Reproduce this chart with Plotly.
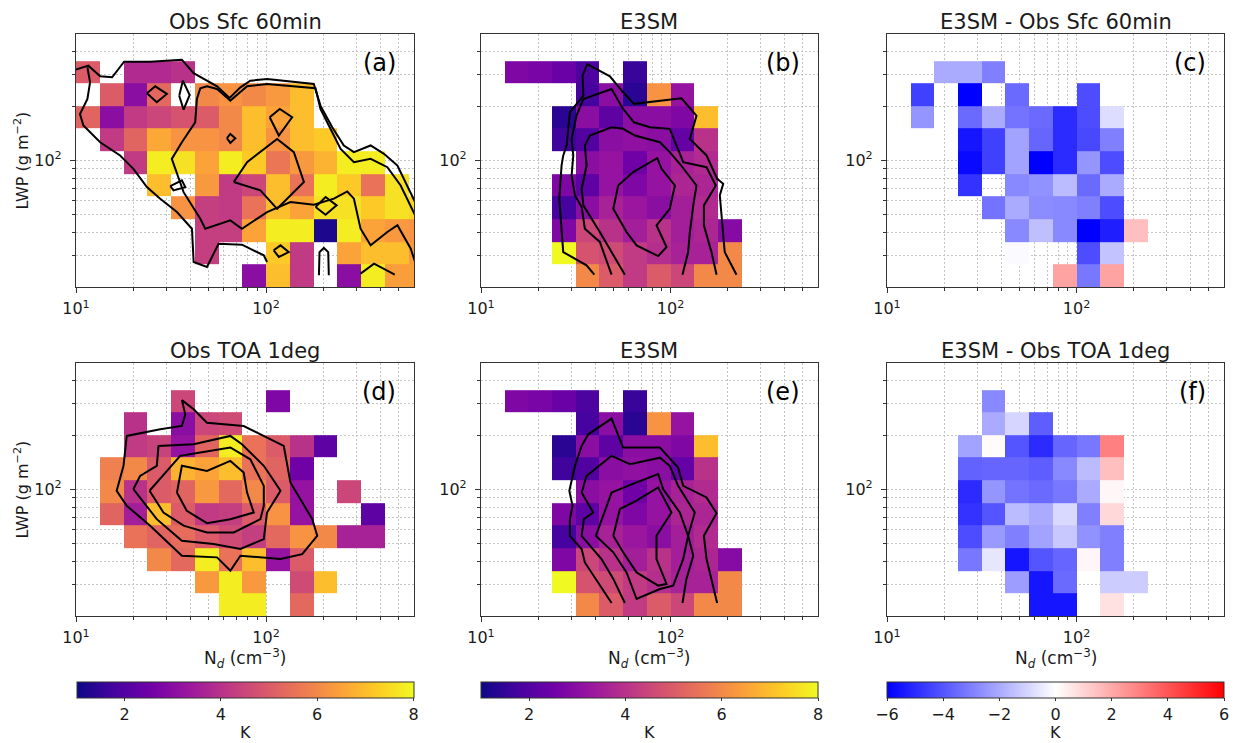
import numpy as np
import plotly.graph_objects as go
from plotly.subplots import make_subplots

N = None

# ---------------- bins (cell edges) ----------------
ND_EDGES = [10.0, 13.34, 17.78, 23.71, 31.62, 42.17, 56.23, 74.99, 100.0,
            133.4, 177.8, 237.1, 316.2, 421.7, 562.3, 749.9]
LWP_EDGES = [20.0, 26.67, 35.57, 47.43, 63.25, 84.34, 112.5, 150.0, 200.0,
             266.7, 355.7, 474.3]

# ---------------- cell values (rows listed top -> bottom, r10 .. r0) ----------------
Z_OBS_SFC = [
    [N, N, N, N, N, N, N, N, N, N, N, N, N, N, N],
    [5.0, N, 3.8, 3.8, 4.0, N, N, N, N, N, N, N, N, N, N],
    [N, 5.0, 3.0, 5.3, N, 6.0, 6.2, 6.0, 6.3, 7.0, N, N, N, N, N],
    [5.2, 3.0, 4.2, 4.5, 4.8, 5.0, 6.0, 7.0, 6.5, 7.0, N, N, N, N, N],
    [N, 4.2, 5.2, 6.6, 6.2, 6.2, 6.0, 7.0, 6.2, 7.0, 7.2, N, N, N, N],
    [N, N, 4.2, 7.8, 7.6, 6.5, 7.8, 7.2, 5.6, 6.3, 6.8, 7.8, 7.8, N, N],
    [N, N, N, 7.0, N, 6.3, 4.2, 4.5, 7.0, 5.5, 7.8, 7.2, 5.5, 7.6, N],
    [N, N, N, N, 6.2, 4.3, 4.2, 5.5, 7.0, 6.5, 7.6, 7.6, 7.2, 7.6, 7.4],
    [N, N, N, N, N, 4.3, 4.3, 6.5, 7.8, 7.8, 1.2, 7.8, 6.5, 6.3, 6.2],
    [N, N, N, N, N, 4.3, N, N, 7.2, 4.2, N, 6.5, 7.0, 7.0, 6.3],
    [N, N, N, N, N, N, N, 3.0, 7.0, 4.2, N, 3.0, 7.8, 6.4, 6.4],
]
Z_E3SM = [
    [N, N, N, N, N, N, N, N, N, N, N, N, N, N, N],
    [N, 2.8, 2.7, 2.4, 1.9, N, 1.6, N, N, N, N, N, N, N, N],
    [N, N, N, N, 1.8, 3.0, 1.4, 6.2, 3.2, N, N, N, N, N, N],
    [N, N, N, 1.4, 3.0, 2.2, 3.0, 3.0, 2.8, 7.0, N, N, N, N, N],
    [N, N, N, 1.7, 2.0, 3.0, 3.1, 3.0, 2.3, 4.0, N, N, N, N, N],
    [N, N, N, N, 3.0, 3.2, 2.5, 3.2, 3.6, 3.8, N, N, N, N, N],
    [N, N, N, 2.8, 2.2, 3.2, 2.8, 3.2, 3.7, 3.7, N, N, N, N, N],
    [N, N, N, 1.8, 3.0, 3.6, 3.3, 3.0, 3.5, 3.8, N, N, N, N, N],
    [N, N, N, 2.8, 4.5, 4.0, 3.5, 4.0, 3.5, 3.7, 2.9, N, N, N, N],
    [N, N, N, 8.0, 4.8, 4.6, 4.2, 3.9, 3.6, 3.6, 6.0, N, N, N, N],
    [N, N, N, N, 6.0, 5.0, 4.2, 5.0, 4.5, 6.0, 6.0, N, N, N, N],
]
Z_DIFF_SFC = [
    [N, N, N, N, N, N, N, N, N, N, N, N, N, N, N],
    [N, N, -2.0, -2.0, -3.0, N, N, N, N, N, N, N, N, N, N],
    [N, -4.5, N, -6.0, N, -3.5, N, N, -4.2, N, N, N, N, N, N],
    [N, -2.5, N, -3.5, -2.0, -3.3, -3.5, -5.0, -4.2, -0.8, N, N, N, N, N],
    [N, N, N, -5.5, -4.5, -2.2, -3.6, -5.0, -4.3, -3.0, N, N, N, N, N],
    [N, N, N, -5.8, -4.5, -2.2, -6.0, -5.0, -2.5, -4.2, N, N, N, N, N],
    [N, N, N, -4.8, N, -2.8, -2.6, -1.6, -3.5, -2.0, N, N, N, N, N],
    [N, N, N, N, -3.3, -2.0, -2.7, -2.8, -3.0, -4.2, N, N, N, N, N],
    [N, N, N, N, N, -2.8, -1.5, -2.8, -6.0, -5.3, 1.5, N, N, N, N],
    [N, N, N, N, N, -0.1, N, N, -4.2, -1.4, N, N, N, N, N],
    [N, N, N, N, N, N, N, 2.2, -3.2, 2.2, N, N, N, N, N],
]
Z_OBS_TOA = [
    [N, N, N, N, N, N, N, N, N, N, N, N, N, N, N],
    [N, N, N, N, 4.5, N, N, N, 2.8, N, N, N, N, N, N],
    [N, N, 4.0, N, 3.0, 4.5, 4.6, N, N, N, N, N, N, N, N],
    [N, N, 4.2, 4.4, 3.2, 5.2, 7.8, 5.5, 5.0, 4.0, 2.2, N, N, N, N],
    [N, 5.8, 6.0, 5.0, 6.8, 6.5, 7.0, 5.5, 5.2, 2.5, N, N, N, N, N],
    [N, 6.0, 4.0, 5.0, 5.2, 6.3, 5.3, 6.0, 5.0, 3.2, N, 4.5, N, N, N],
    [N, 5.2, 3.5, 7.0, 5.0, 4.2, 4.3, 5.0, 6.2, 3.2, N, N, 2.2, N, N],
    [N, N, 5.5, 5.2, 5.4, 5.0, 4.6, 4.3, 5.3, 6.2, 6.0, 3.6, 3.6, N, N],
    [N, N, N, 6.0, 5.3, 7.8, 5.5, 7.0, 3.2, 5.0, N, N, N, N, N],
    [N, N, N, N, N, 6.3, 7.8, 6.3, N, 4.6, 7.0, N, N, N, N],
    [N, N, N, N, N, N, 7.8, 7.8, N, 5.3, N, N, N, N, N],
]
Z_DIFF_TOA = [
    [N, N, N, N, N, N, N, N, N, N, N, N, N, N, N],
    [N, N, N, N, -2.8, N, N, N, N, N, N, N, N, N, N],
    [N, N, N, N, -2.0, -1.0, -3.8, N, N, N, N, N, N, N, N],
    [N, N, N, -2.2, 0.1, -4.0, -5.0, -3.6, -3.2, 3.0, N, N, N, N, N],
    [N, N, N, -3.7, -3.6, -3.6, -3.8, -2.8, -1.6, 1.5, N, N, N, N, N],
    [N, N, N, -5.0, -2.5, -3.3, -3.5, -3.2, -2.0, 0.2, N, N, N, N, N],
    [N, N, N, -4.8, -4.0, -1.6, -2.0, -0.9, -3.0, 0.9, N, N, N, N, N],
    [N, N, N, -4.2, -2.4, -3.0, -2.2, -1.3, -2.6, -3.0, N, N, N, N, N],
    [N, N, N, -3.2, -0.6, -5.5, -4.0, -3.6, 0.2, -3.0, N, N, N, N, N],
    [N, N, N, N, N, -2.3, -5.5, -3.5, N, -1.2, -1.2, N, N, N, N],
    [N, N, N, N, N, N, -5.5, -5.5, N, 0.7, N, N, N, N, N],
]

# ---------------- frequency contours (log10 Nd, log10 LWP) ----------------
# (a) Obs Sfc 60min
A1_LX = [1.000, 1.065, 1.127, 1.190, 1.253, 1.390, 1.557, 1.619, 1.742, 1.808, 1.865, 1.917, 2.005,
         2.251, 2.286, 2.348, 2.409, 2.462, 2.550, 2.620, 2.691, 2.784]
A1_LY = [2.502, 2.524, 2.465, 2.460, 2.546, 2.546, 2.557, 2.483, 2.410, 2.346, 2.404, 2.441, 2.450,
         2.423, 2.303, 2.184, 2.083, 2.046, 2.083, 2.037, 1.972, 1.770]
A2_LX = [1.060, 1.074, 1.060, 1.021, 1.039, 1.127, 1.232, 1.302, 1.373, 1.443, 1.531, 1.610, 1.619,
         1.689, 1.750, 1.873, 1.988, 2.005]
A2_LY = [2.515, 2.432, 2.340, 2.257, 2.193, 2.101, 2.028, 1.954, 1.853, 1.789, 1.715, 1.623, 1.439,
         1.412, 1.540, 1.535, 1.476, 1.439]
A3_LX = [2.784, 2.708, 2.638, 2.550, 2.462, 2.392, 2.348, 2.286, 2.260, 2.005, 1.900, 1.812, 1.742,
         1.689, 1.654, 1.636, 1.627, 1.557, 1.504, 1.566, 1.654, 1.680, 1.812, 1.873, 2.005, 2.128,
         2.251, 2.357, 2.427, 2.462, 2.497, 2.550, 2.638, 2.691, 2.761, 2.784]
A3_LY = [1.697, 1.862, 1.963, 2.009, 1.991, 2.064, 2.156, 2.285, 2.399, 2.423, 2.410, 2.331, 2.395,
         2.410, 2.399, 2.340, 2.211, 2.101, 2.009, 1.825, 1.678, 1.623, 1.669, 1.623, 1.715, 1.770,
         1.756, 1.789, 1.829, 1.789, 1.623, 1.531, 1.605, 1.642, 1.513, 1.439]
A4_LX = [1.830, 1.900, 2.058, 2.146, 2.199, 2.128, 2.058, 1.970, 1.830]
A4_LY = [1.881, 1.991, 2.119, 2.046, 1.881, 1.807, 1.733, 1.835, 1.881]
A5_LX = [1.373, 1.417, 1.478, 1.425, 1.373]
A5_LY = [2.371, 2.410, 2.368, 2.322, 2.371]
A6_LX = [1.543, 1.562, 1.598, 1.566, 1.543]
A6_LY = [2.358, 2.441, 2.362, 2.281, 2.358]
A7_LX = [1.794, 1.812, 1.838, 1.812, 1.794]
A7_LY = [2.123, 2.147, 2.123, 2.097, 2.123]
A8_LX = [2.019, 2.072, 2.137, 2.067, 2.019]
A8_LY = [2.239, 2.285, 2.239, 2.138, 2.239]
A9_LX = [1.496, 1.557, 1.575, 1.513, 1.496]
A9_LY = [1.858, 1.890, 1.853, 1.835, 1.858]
A10_LX = [2.260, 2.313, 2.371, 2.313, 2.260]
A10_LY = [1.743, 1.798, 1.752, 1.700, 1.743]
A11_LX = [2.040, 2.076, 2.119, 2.067, 2.040]
A11_LY = [1.504, 1.531, 1.494, 1.467, 1.504]
A12_LX = [2.278, 2.281, 2.304, 2.327, 2.330]
A12_LY = [1.366, 1.494, 1.517, 1.494, 1.366]
A13_LX = [2.497, 2.568, 2.677]
A13_LY = [1.375, 1.430, 1.369]

# (b) E3SM (matched to Sfc)
B1_LX = [1.598, 1.557, 1.434, 1.425, 1.413, 1.425, 1.434, 1.452, 1.460, 1.469, 1.540, 1.536, 1.561,
         1.680, 1.750, 1.807, 2.058, 2.137, 2.102, 2.190, 2.246, 2.278, 2.260, 2.274, 2.286, 2.348]
B1_LY = [1.369, 1.421, 1.494, 1.605, 1.789, 1.972, 2.028, 2.083, 2.156, 2.267, 2.358, 2.469, 2.533,
         2.465, 2.377, 2.313, 2.344, 2.248, 2.119, 2.028, 1.899, 1.871, 1.807, 1.642, 1.494, 1.369]
B2_LX = [1.689, 1.627, 1.548, 1.531, 1.496, 1.478, 1.487, 1.478, 1.504, 1.540, 1.689, 1.750, 1.807,
         1.891, 1.996, 2.067, 2.190, 2.239, 2.176, 2.176, 2.216, 2.243]
B2_LY = [1.369, 1.550, 1.623, 1.743, 1.807, 1.917, 2.028, 2.119, 2.248, 2.340, 2.395, 2.285, 2.211,
         2.184, 2.175, 1.991, 1.963, 1.862, 1.752, 1.642, 1.494, 1.369]
B3_LX = [1.759, 1.689, 1.627, 1.540, 1.531, 1.557, 1.548, 1.575, 1.689, 1.750, 1.812, 1.944, 1.996,
         2.049, 2.137, 2.120, 2.102, 2.093, 2.063]
B3_LY = [1.369, 1.494, 1.605, 1.752, 1.844, 1.972, 2.083, 2.138, 2.184, 2.175, 2.138, 2.101, 2.046,
         1.982, 1.862, 1.752, 1.605, 1.494, 1.369]
B4_LX = [1.724, 1.803, 1.930, 1.953, 2.023, 1.996, 1.926, 1.979, 1.935, 1.821, 1.768, 1.698, 1.724]
B4_LY = [1.862, 1.936, 2.013, 1.954, 1.862, 1.733, 1.642, 1.522, 1.472, 1.531, 1.605, 1.733, 1.862]

# (d) Obs TOA 1deg
D1_LX = [1.557, 1.619, 1.689, 1.882, 2.093, 2.128, 2.243, 2.269, 2.190, 2.076, 1.865, 1.812, 1.742,
         1.557, 1.390, 1.267, 1.214, 1.250, 1.267, 1.443, 1.557, 1.575, 1.557]
D1_LY = [2.494, 2.443, 2.369, 2.351, 2.241, 2.039, 1.836, 1.744, 1.643, 1.616, 1.634, 1.551, 1.625,
         1.634, 1.800, 1.910, 1.993, 2.131, 2.296, 2.333, 2.351, 2.415, 2.494]
D2_LX = [1.302, 1.337, 1.425, 1.434, 1.619, 1.812, 1.873, 1.988, 2.076, 2.005, 1.988, 1.865, 1.724,
         1.557, 1.425, 1.302]
D2_LY = [2.002, 2.075, 2.131, 2.241, 2.250, 2.296, 2.250, 2.131, 1.993, 1.873, 1.726, 1.671, 1.699,
         1.717, 1.836, 2.002]
D3_LX = [1.387, 1.548, 1.654, 1.812, 1.917, 1.988, 1.988, 1.970, 1.830, 1.689, 1.566, 1.460, 1.387]
D3_LY = [1.993, 2.186, 2.204, 2.232, 2.167, 2.020, 1.910, 1.836, 1.763, 1.763, 1.800, 1.873, 1.993]
D4_LX = [1.531, 1.557, 1.689, 1.812, 1.882, 1.900, 1.935, 1.812, 1.689, 1.583, 1.531]
D4_LY = [1.983, 2.131, 2.103, 2.158, 2.094, 1.983, 1.873, 1.836, 1.814, 1.882, 1.983]

# (e) E3SM (matched to TOA)
E1_LX = [1.689, 1.619, 1.548, 1.531, 1.469, 1.469, 1.483, 1.466, 1.496, 1.531, 1.566, 1.689, 1.750,
         1.873, 1.944, 2.040, 2.067, 2.190, 2.243, 2.176, 2.190, 2.246]
E1_LY = [1.373, 1.487, 1.597, 1.671, 1.744, 1.836, 1.910, 1.993, 2.131, 2.241, 2.305, 2.392, 2.232,
         2.232, 2.232, 2.121, 2.020, 1.956, 1.869, 1.744, 1.616, 1.373]
E2_LX = [1.759, 1.698, 1.636, 1.531, 1.543, 1.592, 1.531, 1.557, 1.689, 1.786, 1.944, 1.996, 2.040,
         2.128, 2.093, 2.120, 2.084, 2.063]
E2_LY = [1.373, 1.506, 1.616, 1.744, 1.836, 1.873, 1.983, 2.075, 2.186, 2.140, 2.176, 2.131, 2.020,
         1.873, 1.744, 1.634, 1.506, 1.373]
E3_LX = [1.606, 1.663, 1.689, 1.821, 1.935, 1.961, 2.049, 2.093, 2.067, 2.014, 1.944, 1.821, 1.768,
         1.698, 1.606]
E3_LY = [1.744, 1.910, 1.983, 2.039, 2.085, 2.002, 1.873, 1.744, 1.616, 1.469, 1.450, 1.395, 1.542,
         1.653, 1.744]
E4_LX = [1.698, 1.733, 1.821, 1.935, 2.005, 1.926, 1.926, 1.979, 1.935, 1.821, 1.750, 1.698]
E4_LY = [1.744, 1.892, 1.938, 2.011, 1.873, 1.744, 1.616, 1.478, 1.469, 1.542, 1.653, 1.744]

TITLES = ["Obs Sfc 60min", "E3SM", "E3SM - Obs Sfc 60min",
          "Obs TOA 1deg", "E3SM", "E3SM - Obs TOA 1deg"]
LABELS = ["(a)", "(b)", "(c)", "(d)", "(e)", "(f)"]
X_TICKS = [10, 100]
X_TICKTEXT = ["10<sup>1</sup>", "10<sup>2</sup>"]
X_MINOR = [20, 30, 40, 50, 60, 70, 80, 90, 200, 300, 400, 500]
Y_TICKS = [100]
Y_TICKTEXT = ["10<sup>2</sup>"]
Y_MINOR = [30, 40, 50, 60, 70, 80, 90, 200, 300, 400]
CB_TICKS_ABS = [2, 4, 6, 8]
CB_TICKS_DIFF = [-6, -4, -2, 0, 2, 4, 6]
CB_TICKTEXT_DIFF = ["\u22126", "\u22124", "\u22122", "0", "2", "4", "6"]

FONT = "DejaVu Sans"
TXT = "#1a1a1a"

fig = make_subplots(rows=2, cols=3)

xdom = [[76 / 1236, 414 / 1236], [481 / 1236, 818 / 1236], [887 / 1236, 1224 / 1236]]
ydom = [[1 - 287 / 743, 1 - 34 / 743], [1 - 616 / 743, 1 - 363 / 743]]

panels = [
    (1, 1, Z_OBS_SFC, "coloraxis", [(A1_LX, A1_LY), (A2_LX, A2_LY), (A3_LX, A3_LY), (A4_LX, A4_LY),
                                    (A5_LX, A5_LY), (A6_LX, A6_LY), (A7_LX, A7_LY), (A8_LX, A8_LY),
                                    (A9_LX, A9_LY), (A10_LX, A10_LY), (A11_LX, A11_LY),
                                    (A12_LX, A12_LY), (A13_LX, A13_LY)]),
    (1, 2, Z_E3SM, "coloraxis2", [(B1_LX, B1_LY), (B2_LX, B2_LY), (B3_LX, B3_LY), (B4_LX, B4_LY)]),
    (1, 3, Z_DIFF_SFC, "coloraxis3", []),
    (2, 1, Z_OBS_TOA, "coloraxis", [(D1_LX, D1_LY), (D2_LX, D2_LY), (D3_LX, D3_LY), (D4_LX, D4_LY)]),
    (2, 2, Z_E3SM, "coloraxis2", [(E1_LX, E1_LY), (E2_LX, E2_LY), (E3_LX, E3_LY), (E4_LX, E4_LY)]),
    (2, 3, Z_DIFF_TOA, "coloraxis3", []),
]

for (r, c, z, ca, conts) in panels:
    zz = [[np.nan if v is None else v for v in row] for row in z[::-1]]
    fig.add_trace(go.Heatmap(x=ND_EDGES, y=LWP_EDGES, z=zz, coloraxis=ca,
                             hoverinfo="skip"), row=r, col=c)
    for lx, ly in conts:
        fig.add_trace(go.Scatter(x=10 ** np.array(lx), y=10 ** np.array(ly), mode="lines",
                                 line=dict(color="black", width=2), showlegend=False,
                                 hoverinfo="skip"), row=r, col=c)

grid = dict(showgrid=True, gridcolor="#c4c4c4", griddash="1.5px,2.5px", gridwidth=0.8)
for i in range(6):
    r, c = divmod(i, 3)
    sfx = "" if i == 0 else str(i + 1)
    fig.layout["xaxis" + sfx].update(
        domain=xdom[c], type="log", range=[1, np.log10(600)],
        tickmode="array", tickvals=X_TICKS, ticktext=X_TICKTEXT,
        ticks="outside", ticklen=5, tickcolor="#333", showline=True, mirror=True,
        linecolor="#333", linewidth=1.2, zeroline=False, automargin=False,
        ticklabelstandoff=2,
        tickfont=dict(family=FONT, size=16, color=TXT),
        minor=dict(tickmode="array", tickvals=X_MINOR, ticks="outside", ticklen=3,
                   tickcolor="#333", **grid),
        **grid)
    fig.layout["yaxis" + sfx].update(
        domain=ydom[r], type="log", range=[np.log10(20), np.log10(500)],
        tickmode="array", tickvals=Y_TICKS, ticktext=Y_TICKTEXT,
        ticks="outside", ticklen=5, tickcolor="#333", showline=True, mirror=True,
        linecolor="#333", linewidth=1.2, zeroline=False, automargin=False,
        ticklabelstandoff=5,
        tickfont=dict(family=FONT, size=16, color=TXT),
        minor=dict(tickmode="array", tickvals=Y_MINOR, ticks="outside", ticklen=3,
                   tickcolor="#333", **grid),
        **grid)

annotations = []
for i in range(6):
    r, c = divmod(i, 3)
    xc = (xdom[c][0] + xdom[c][1]) / 2
    ytop = ydom[r][1]
    annotations.append(dict(text=TITLES[i], x=xc, y=ytop + 12 / 743, xref="paper", yref="paper",
                            xanchor="center", yanchor="middle", showarrow=False,
                            font=dict(family=FONT, size=21, color=TXT)))
    sfx = "" if i == 0 else str(i + 1)
    annotations.append(dict(text=LABELS[i], x=0.953, y=0.885, xref="x" + sfx + " domain",
                            yref="y" + sfx + " domain", xanchor="right", yanchor="middle",
                            showarrow=False, font=dict(family=FONT, size=24, color="black")))
for r in range(2):
    yc = (ydom[r][0] + ydom[r][1]) / 2
    annotations.append(dict(text="LWP (g m<sup>\u22122</sup>)", x=22 / 1236, y=yc, xref="paper",
                            yref="paper", textangle=-90, xanchor="center", yanchor="middle",
                            showarrow=False, font=dict(family=FONT, size=16, color=TXT)))
for c in range(3):
    xc = (xdom[c][0] + xdom[c][1]) / 2
    annotations.append(dict(text="N<sub><i>d</i></sub> (cm<sup>\u22123</sup>)", x=xc,
                            y=1 - 658 / 743, xref="paper", yref="paper", xanchor="center",
                            yanchor="middle", showarrow=False,
                            font=dict(family=FONT, size=17, color=TXT)))
    annotations.append(dict(text="K", x=xc, y=0.5 / 743, xref="paper", yref="paper",
                            xanchor="center", yanchor="bottom", showarrow=False, borderpad=0,
                            font=dict(family=FONT, size=16, color=TXT)))


def cbar(xc, ticks, ticktext=None):
    d = dict(orientation="h", x=xc, xanchor="center", y=1 - 682 / 743, yanchor="top",
             len=337 / 1236, lenmode="fraction", thickness=16, ypad=0, xpad=0,
             tickmode="array", tickvals=ticks, ticks="outside", ticklen=3, tickcolor="#333",
             outlinewidth=1, outlinecolor="#333",
             tickfont=dict(family=FONT, size=16, color=TXT))
    if ticktext is not None:
        d["ticktext"] = ticktext
    return d


BWR = [[0.0, "rgb(0,0,255)"], [0.5, "rgb(255,255,255)"], [1.0, "rgb(255,0,0)"]]
fig.update_layout(
    width=1236, height=743, margin=dict(l=0, r=0, t=0, b=0, autoexpand=False),
    paper_bgcolor="white", plot_bgcolor="white", showlegend=False,
    font=dict(family=FONT, color=TXT),
    coloraxis=dict(colorscale="Plasma", cmin=1, cmax=8,
                   colorbar=cbar((xdom[0][0] + xdom[0][1]) / 2, CB_TICKS_ABS)),
    coloraxis2=dict(colorscale="Plasma", cmin=1, cmax=8,
                    colorbar=cbar((xdom[1][0] + xdom[1][1]) / 2, CB_TICKS_ABS)),
    coloraxis3=dict(colorscale=BWR, cmin=-6, cmax=6,
                    colorbar=cbar((xdom[2][0] + xdom[2][1]) / 2, CB_TICKS_DIFF,
                                  CB_TICKTEXT_DIFF)),
    annotations=annotations,
)

fig.write_html("out.html")
